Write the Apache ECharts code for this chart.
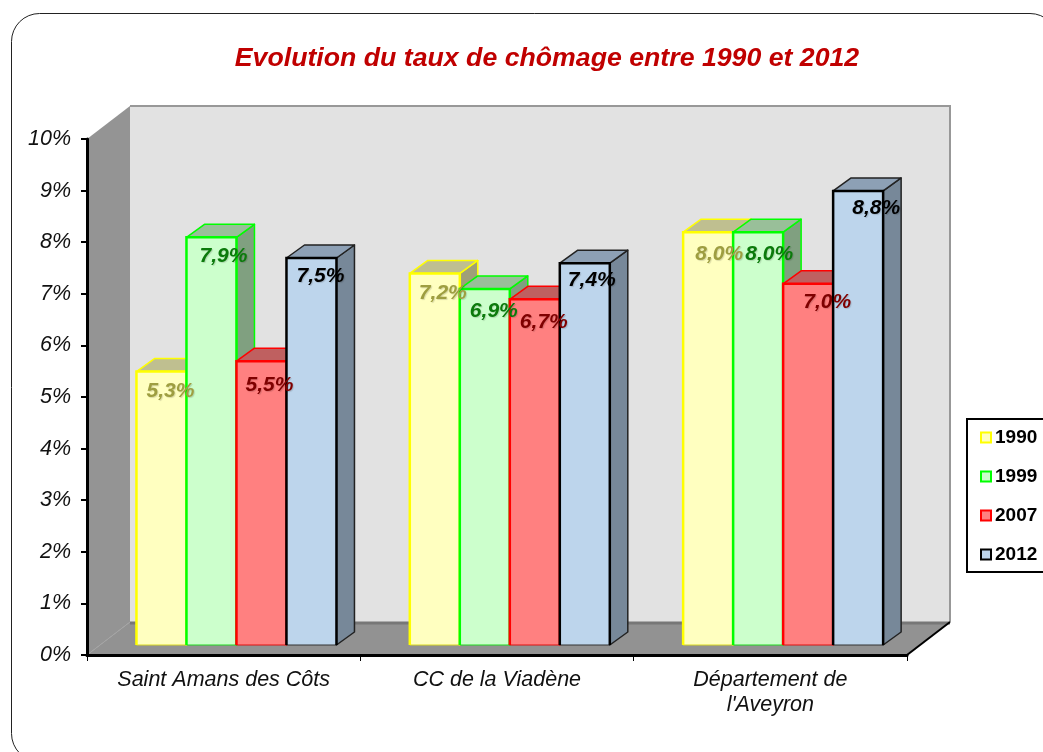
<!DOCTYPE html>
<html>
<head>
<meta charset="utf-8">
<style>html,body{margin:0;padding:0;background:#fff}#chart{width:1043px;height:752px}</style>
<script src="https://cdn.jsdelivr.net/npm/echarts@6/dist/echarts.min.js"></script>
</head>
<body>
<div id="chart"></div>
<script>
const categories = ['Saint Amans des Côts', 'CC de la Viadène', "Département de\nl'Aveyron"]
const years = ['1990', '1999', '2007', '2012']
const values1990 = [5.3, 7.2, 8.0]
const values1999 = [7.9, 6.9, 8.0]
const values2007 = [5.5, 6.7, 7.0]
const values2012 = [7.5, 7.4, 8.8]
const yTicks = [0, 1, 2, 3, 4, 5, 6, 7, 8, 9, 10]

const fontFamily = '"Liberation Sans", Arial, sans-serif'

// colours per series
const looks = [
  { fill: '#FFFFC0', stroke: '#FFFF00', top: '#BFBF90', side: '#9F9F78', text: '#9E9E40', edge: '#FFFF00', base: '#D8D820' },
  { fill: '#CCFFCC', stroke: '#00FF00', top: '#99BF99', side: '#80A080', text: '#0B7A0B', edge: '#00FF00', base: '#20D820' },
  { fill: '#FF8080', stroke: '#FF0000', top: '#BF6060', side: '#A05050', text: '#7F0000', edge: '#FF0000', base: '#E01010' },
  { fill: '#BDD5EC', stroke: '#000000', top: '#8DA0B5', side: '#778899', text: '#000000', edge: '#222222', base: '#333333' }
]

// hand placed label offsets, the original labels are not all in the same spot
const labelNudge = [
  [[9, 20], [8, 20], [11, 22]],
  [[12, 19], [9, 22], [11, 22]],
  [[8, 24], [9, 23], [19, 18]],
  [[9, 18], [7, 17], [18, 17]]
]

const BAR_W = 50
const BAR_SHIFT = [12.8, -10] // where the bars sit in the depth of the floor
const BAR_DEPTH = [18, -13]
const WALL_DEPTH = [43, -33]

const fmtLabel = v => v.toFixed(1).replace('.', ',') + '%'

function wallsItem(params) {
  const c = params.coordSys
  const x0 = c.x, x1 = c.x + c.width, y0 = c.y, y1 = c.y + c.height
  const dx = WALL_DEPTH[0], dy = WALL_DEPTH[1]
  return {
    type: 'group',
    children: [
      { type: 'polygon', shape: { points: [[x0 + dx, y0 + dy], [x1 + dx, y0 + dy], [x1 + dx, y1 + dy], [x0 + dx, y1 + dy]] },
        style: { fill: '#E2E2E2', stroke: null } },
      { type: 'polyline', shape: { points: [[x0 + dx, y0 + dy], [x1 + dx, y0 + dy], [x1 + dx, y1 + dy]] },
        style: { fill: null, stroke: '#989898', lineWidth: 2 } },
      { type: 'polygon', shape: { points: [[x0, y0], [x0 + dx, y0 + dy], [x0 + dx, y1 + dy], [x0, y1]] },
        style: { fill: '#949494', stroke: null } },
      { type: 'polygon', shape: { points: [[x0, y1], [x0 + dx, y1 + dy], [x1 + dx, y1 + dy], [x1, y1]] },
        style: { fill: '#929292', stroke: null } },
      { type: 'line', shape: { x1: x0 + dx, y1: y1 + dy + 1, x2: x1 + dx, y2: y1 + dy + 1 },
        style: { stroke: '#777777', lineWidth: 3 } },
      { type: 'line', shape: { x1: x0, y1: y1, x2: x0 + dx, y2: y1 + dy },
        style: { stroke: '#A4A4A4', lineWidth: 1 } },
      { type: 'line', shape: { x1: x1, y1: y1, x2: x1 + dx, y2: y1 + dy },
        style: { stroke: '#000000', lineWidth: 2 } }
    ]
  }
}

function barItem(seriesIdx) {
  const look = looks[seriesIdx]
  return function (params, api) {
    const cat = api.value(0)
    const val = api.value(1)
    const band = api.size([1, 0])[0]
    const base = api.coord([cat, 0])
    const top = api.coord([cat, val])
    const lx = base[0] - band / 2 + BAR_SHIFT[0] + (band - 4 * BAR_W) / 2 + seriesIdx * BAR_W
    const rx = lx + BAR_W
    const by = base[1] + BAR_SHIFT[1]
    const ty = top[1] + BAR_SHIFT[1]
    const dx = BAR_DEPTH[0], dy = BAR_DEPTH[1]
    const nudge = labelNudge[seriesIdx][cat]
    const sideStyle = { stroke: look.edge, lineWidth: 1.5, lineJoin: 'round' }
    return {
      type: 'group',
      children: [
        { type: 'polygon', shape: { points: [[rx, ty], [rx + dx, ty + dy], [rx + dx, by + dy], [rx, by]] },
          style: Object.assign({ fill: look.side }, sideStyle) },
        { type: 'polygon', shape: { points: [[lx, ty], [lx + dx, ty + dy], [rx + dx, ty + dy], [rx, ty]] },
          style: Object.assign({ fill: look.top }, sideStyle) },
        { type: 'rect', shape: { x: lx, y: ty, width: BAR_W, height: by - ty },
          style: { fill: look.fill, stroke: null } },
        { type: 'line', shape: { x1: lx, y1: by, x2: rx, y2: by },
          style: { stroke: look.base, lineWidth: 1 } },
        { type: 'polyline', shape: { points: [[lx, by], [lx, ty], [rx, ty], [rx, by]] },
          style: { fill: null, stroke: look.stroke, lineWidth: 2.5 } },
        { type: 'text', z2: 50,
          style: {
            text: fmtLabel(val),
            x: lx + BAR_W / 2 + nudge[0], y: ty + nudge[1],
            align: 'center', verticalAlign: 'middle',
            fill: look.text,
            font: 'italic bold 21px ' + fontFamily,
            textShadowColor: 'rgba(0,0,0,0.15)', textShadowBlur: 1, textShadowOffsetX: 1, textShadowOffsetY: 1
          } }
      ]
    }
  }
}

const toRows = arr => arr.map((v, i) => [i, v])
const allValues = [values1990, values1999, values2007, values2012]

const chart = echarts.init(document.getElementById('chart'), null, { renderer: 'canvas' })
chart.setOption({
  animation: false,
  backgroundColor: '#ffffff',
  textStyle: { fontFamily },
  title: {
    text: 'Evolution du taux de chômage entre 1990 et 2012',
    left: 542, top: 40, textAlign: 'center',
    textStyle: { color: '#C00000', fontSize: 26.7, fontWeight: 'bold', fontStyle: 'italic', fontFamily }
  },
  graphic: [{
    type: 'rect', z: -1, silent: true,
    shape: { x: 11.5, y: 13.5, width: 1046.5, height: 748, r: 28 },
    style: { fill: '#ffffff', stroke: '#222222', lineWidth: 1 }
  }],
  legend: {
    left: 967, top: 419, orient: 'vertical',
    data: years,
    selectedMode: false,
    backgroundColor: '#ffffff',
    borderColor: '#000000', borderWidth: 2, borderRadius: 0,
    padding: [9, 30, 8, 13],
    itemWidth: 10, itemHeight: 10, itemGap: 20,
    icon: 'rect',
    textStyle: { color: '#000000', fontSize: 19, fontWeight: 'bold', fontFamily, padding: [0, 0, 0, -1] }
  },
  grid: { left: 87, right: 136, top: 139, bottom: 97, containLabel: false },
  xAxis: {
    type: 'category', data: categories,
    axisLine: { lineStyle: { color: '#000000', width: 3 } },
    axisTick: { show: true, length: 6, interval: 0, alignWithLabel: false, lineStyle: { color: '#000000', width: 1 } },
    axisLabel: { color: '#111111', fontSize: 21.5, fontStyle: 'italic', fontFamily, margin: 13, lineHeight: 25, interval: 0 }
  },
  yAxis: {
    type: 'value', min: 0, max: yTicks[yTicks.length - 1], interval: 1,
    axisLine: { show: true, lineStyle: { color: '#000000', width: 3 } },
    axisTick: { show: true, length: 6, lineStyle: { color: '#000000', width: 2 } },
    axisLabel: { color: '#111111', fontSize: 21.5, fontStyle: 'italic', fontFamily, margin: 16, formatter: '{value}%' },
    splitLine: { show: false }
  },
  series: [
    { name: 'walls', type: 'custom', z: 0, silent: true, data: [[0, 0]], renderItem: wallsItem, coordinateSystem: 'cartesian2d' }
  ].concat(years.map((y, i) => ({
    name: y, type: 'custom', z: 1, coordinateSystem: 'cartesian2d',
    encode: { x: 0, y: 1 },
    itemStyle: { color: looks[i].fill, borderColor: looks[i].stroke, borderWidth: 3 },
    data: toRows(allValues[i]),
    renderItem: barItem(i)
  })))
})
</script>
</body>
</html>
